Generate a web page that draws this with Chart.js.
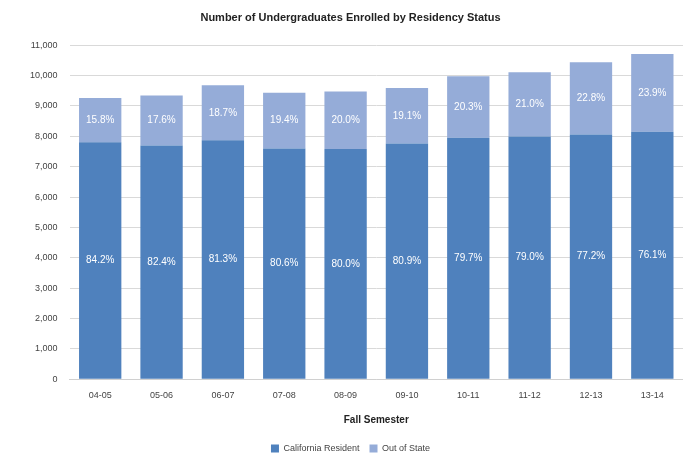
<!DOCTYPE html>
<html>
<head>
<meta charset="utf-8">
<script src="https://cdn.jsdelivr.net/npm/chart.js@4/dist/chart.umd.min.js"></script>
<style>
  html,body{margin:0;padding:0;background:#fff;}
  #wrap{width:683px;height:467px;}
</style>
</head>
<body>
<div id="wrap"><canvas id="chart"></canvas></div>
<script>
// datos
const semesters = ['04-05','05-06','06-07','07-08','08-09','09-10','10-11','11-12','12-13','13-14'];
const inState = [7800,7700,7870,7600,7580,7760,7950,7990,8060,8150];
const outState = [1460,1640,1810,1830,1895,1830,2030,2120,2380,2560];
const seriesNames = ['California Resident','Out of State'];

// etiquetas de porcentaje dentro de las barras
const pctLabels = {
  id:'pctLabels',
  afterDatasetsDraw(chart){
    const ctx = chart.ctx;
    ctx.save();
    ctx.fillStyle = '#ffffff';
    ctx.font = '10px "Liberation Sans", Arial, sans-serif';
    ctx.textAlign = 'center';
    ctx.textBaseline = 'middle';
    chart.data.datasets.forEach((ds, i) => {
      chart.getDatasetMeta(i).data.forEach((bar, j) => {
        const total = inState[j] + outState[j];
        const pct = (ds.data[j] / total * 100).toFixed(1) + '%';
        const mid = (bar.y + bar.base) / 2;
        ctx.fillText(pct, bar.x, mid);
      });
    });
    ctx.restore();
  }
};

const ctx = document.getElementById('chart').getContext('2d');
const chart = new Chart(ctx, {
  type:'bar',
  data:{
    labels:semesters,
    datasets:[{
      label:seriesNames[0],
      data:inState,
      backgroundColor:'#4F81BD',
      barPercentage:0.69,
      categoryPercentage:1
    },{
      label:seriesNames[1],
      data:outState,
      backgroundColor:'#95ACD8',
      barPercentage:0.69,
      categoryPercentage:1
    }]
  },
  options:{
    responsive:true,
    maintainAspectRatio:false,
    animation:false,
    layout:{padding:{left:18,right:0,top:2,bottom:4}},
    plugins:{
      title:{display:true,text:'Number of Undergraduates Enrolled by Residency Status',
        color:'#222',font:{family:'"Liberation Sans", Arial, sans-serif',size:11,weight:'bold'},
        padding:{top:9,bottom:21}},
      legend:{position:'bottom',
        labels:{color:'#444',boxWidth:8,boxHeight:8,font:{family:'"Liberation Sans", Arial, sans-serif',size:9},padding:10}},
      tooltip:{enabled:false}
    },
    scales:{
      x:{stacked:true,
        grid:{display:false},
        border:{color:'#d0d0d0'},
        ticks:{color:'#444',font:{family:'"Liberation Sans", Arial, sans-serif',size:9},padding:3},
        title:{display:true,text:'Fall Semester',color:'#222',
          font:{family:'"Liberation Sans", Arial, sans-serif',size:10,weight:'bold'},padding:{top:10,bottom:8}}},
      y:{stacked:true,min:0,max:11000,
        grid:{color:'#d9d9d9',drawTicks:false},
        border:{display:false},
        ticks:{stepSize:1000,color:'#444',padding:12,
          font:{family:'"Liberation Sans", Arial, sans-serif',size:9},
          callback:v => v.toLocaleString('en-US')}}
    }
  },
  plugins:[pctLabels]
});
</script>
</body>
</html>
